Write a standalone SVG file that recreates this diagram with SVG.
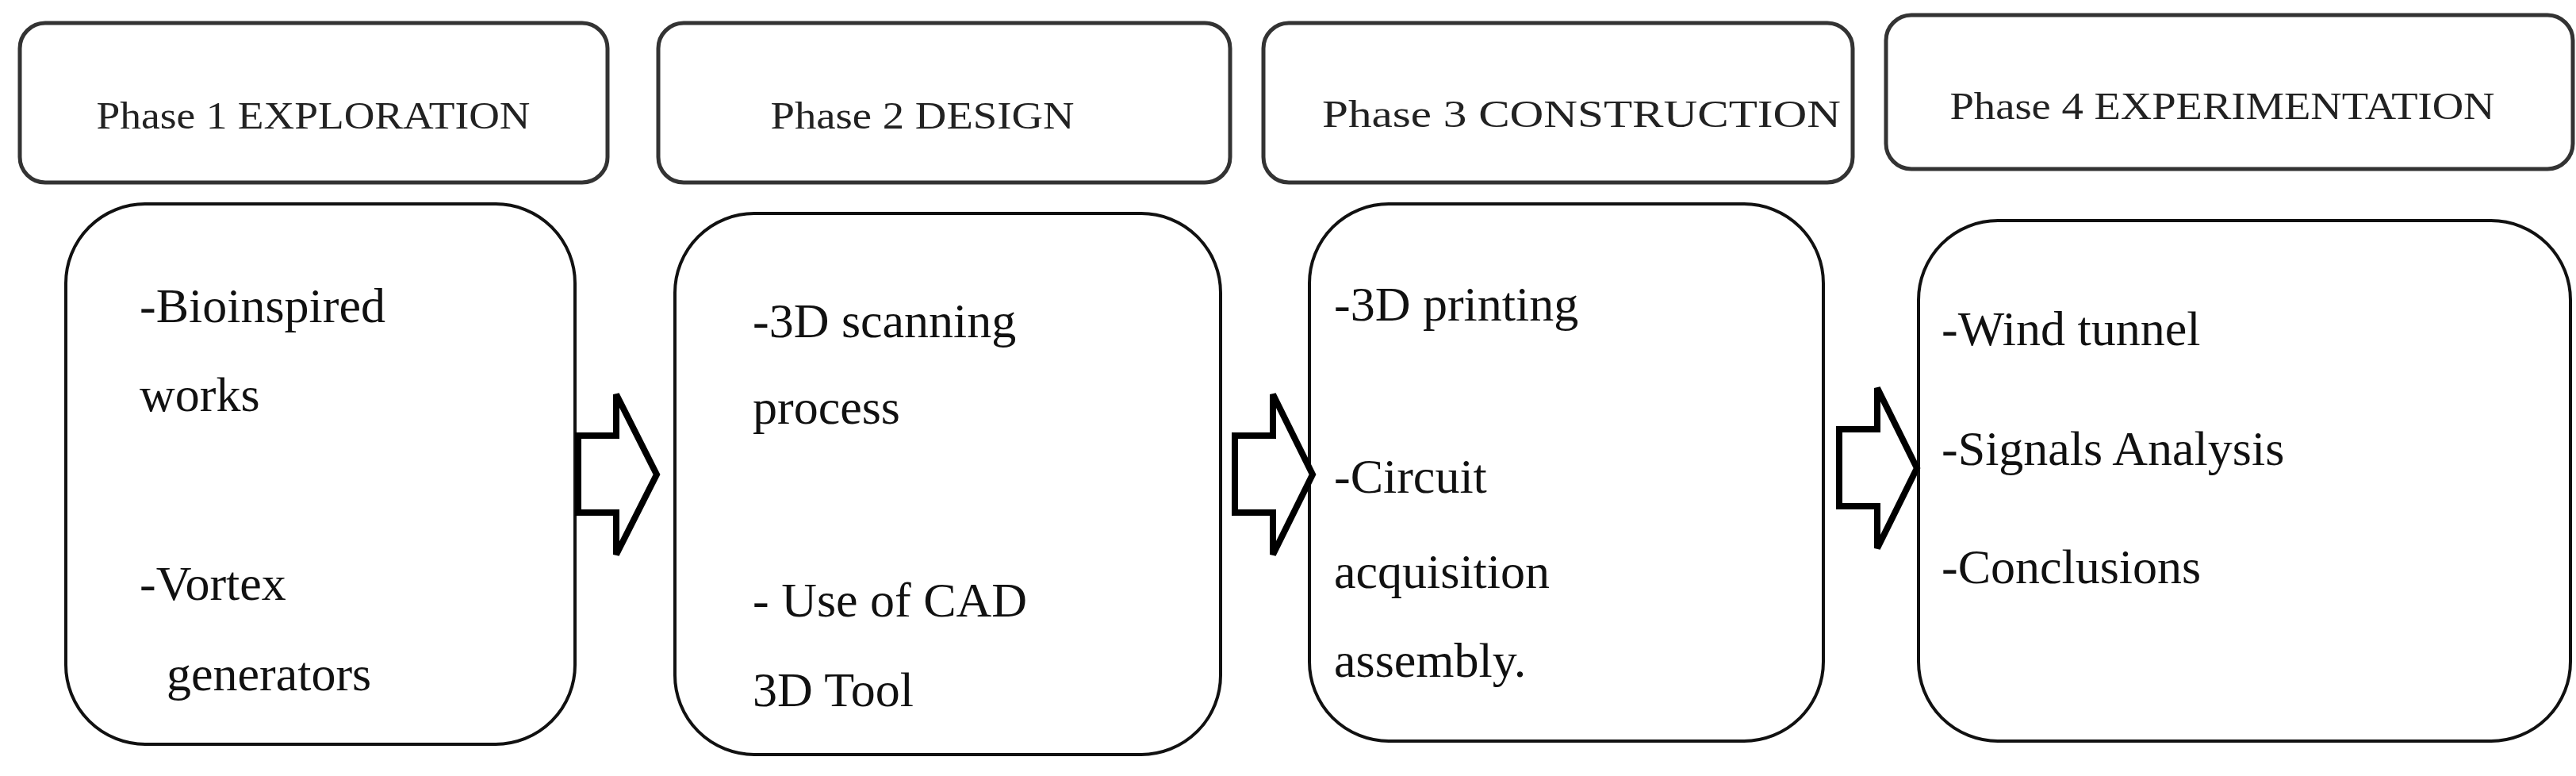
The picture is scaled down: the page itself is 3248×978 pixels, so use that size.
<svg xmlns="http://www.w3.org/2000/svg" width="3248" height="978" viewBox="0 0 3248 978">
<style>
.h{fill:#fff;stroke:#333;stroke-width:5}
.b{fill:#fff;stroke:#111;stroke-width:4}
.ht{font-family:"Liberation Serif",serif;font-size:48px;fill:#222;text-anchor:middle}
.bt{font-family:"Liberation Serif",serif;font-size:62px;fill:#111}
.a{fill:#fff;stroke:#000;stroke-width:8;stroke-linejoin:miter}
</style>
<rect width="3248" height="978" fill="#fff"/>
<g id="phase1">
<rect class="h" x="25" y="29" width="741" height="201" rx="32"/>
<text class="ht" x="395" y="162" textLength="547" lengthAdjust="spacingAndGlyphs">Phase 1 EXPLORATION</text>
<rect class="b" x="83" y="257" width="642" height="681" rx="100"/>
<text class="bt" x="176" y="406">-Bioinspired</text>
<text class="bt" x="176" y="518">works</text>
<text class="bt" x="176" y="756">-Vortex</text>
<text class="bt" x="210" y="870">generators</text>
</g>
<g id="phase2">
<rect class="h" x="830" y="29" width="721" height="201" rx="32"/>
<text class="ht" x="1163" y="162" textLength="383" lengthAdjust="spacingAndGlyphs">Phase 2 DESIGN</text>
<rect class="b" x="851" y="269" width="688" height="682" rx="100"/>
<text class="bt" x="949" y="425">-3D scanning</text>
<text class="bt" x="949" y="534">process</text>
<text class="bt" x="949" y="777">- Use of CAD</text>
<text class="bt" x="949" y="890">3D Tool</text>
</g>
<g id="phase3">
<rect class="h" x="1593" y="29" width="743" height="201" rx="32"/>
<text class="ht" x="1994" y="160" textLength="654" lengthAdjust="spacingAndGlyphs">Phase 3 CONSTRUCTION</text>
<rect class="b" x="1651" y="257" width="648" height="677" rx="100"/>
<text class="bt" x="1682" y="404">-3D printing</text>
<text class="bt" x="1682" y="621">-Circuit</text>
<text class="bt" x="1682" y="741">acquisition</text>
<text class="bt" x="1682" y="853">assembly.</text>
</g>
<g id="phase4">
<rect class="h" x="2378" y="19" width="866" height="194" rx="32"/>
<text class="ht" x="2802" y="150" textLength="687" lengthAdjust="spacingAndGlyphs">Phase 4 EXPERIMENTATION</text>
<rect class="b" x="2419" y="278" width="822" height="656" rx="100"/>
<text class="bt" x="2448" y="435">-Wind tunnel</text>
<text class="bt" x="2448" y="586">-Signals Analysis</text>
<text class="bt" x="2448" y="735">-Conclusions</text>
</g>
<g id="connectors">
<path class="a" d="M729,549 H777 V497 L828,598 L777,699 V646 H729 Z"/>
<path class="a" d="M1557,549 H1605 V497 L1655,598 L1605,699 V646 H1557 Z"/>
<path class="a" d="M2319,541 H2367 V489 L2417,590 L2367,691 V638 H2319 Z"/>
</g>
</svg>
